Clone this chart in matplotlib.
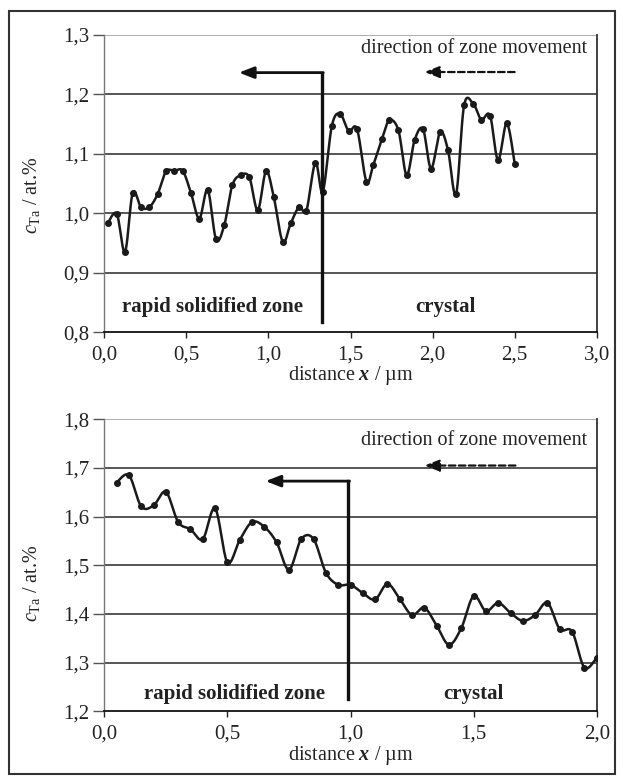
import numpy as np
import matplotlib
matplotlib.use("Agg")
import matplotlib.pyplot as plt
from matplotlib.patches import Rectangle
from matplotlib.ticker import FuncFormatter

# ---------------- data ----------------
x_top = [0.021, 0.076, 0.126, 0.173, 0.224, 0.274, 0.325, 0.376, 0.427, 0.478,
         0.528, 0.579, 0.630, 0.681, 0.731, 0.780, 0.833, 0.884, 0.935, 0.985,
         1.032, 1.087, 1.136, 1.188, 1.231, 1.286, 1.331, 1.386, 1.436, 1.489,
         1.540, 1.597, 1.639, 1.692, 1.737, 1.792, 1.842, 1.891, 1.942, 1.991,
         2.046, 2.094, 2.143, 2.192, 2.249, 2.297, 2.350, 2.399, 2.452, 2.501]
c_top = [0.983, 0.999, 0.935, 1.034, 1.010, 1.010, 1.032, 1.070, 1.071, 1.071,
         1.034, 0.991, 1.039, 0.956, 0.980, 1.047, 1.064, 1.060, 1.005, 1.070,
         1.028, 0.952, 0.983, 1.011, 1.004, 1.085, 1.036, 1.146, 1.167, 1.138,
         1.141, 1.053, 1.081, 1.125, 1.156, 1.139, 1.064, 1.123, 1.141, 1.075,
         1.136, 1.106, 1.032, 1.181, 1.183, 1.157, 1.164, 1.089, 1.151, 1.082]

x_bot = [0.05, 0.10, 0.15, 0.20, 0.25, 0.30, 0.35, 0.40, 0.45, 0.50,
         0.55, 0.60, 0.65, 0.70, 0.75, 0.80, 0.85, 0.90, 0.95, 1.00,
         1.05, 1.10, 1.15, 1.20, 1.25, 1.30, 1.35, 1.40, 1.45, 1.50,
         1.55, 1.60, 1.65, 1.70, 1.75, 1.80, 1.85, 1.90, 1.95, 2.00]
c_bot = [1.670, 1.685, 1.621, 1.623, 1.651, 1.589, 1.574, 1.554, 1.617, 1.506,
         1.552, 1.589, 1.579, 1.547, 1.491, 1.554, 1.554, 1.485, 1.460, 1.460,
         1.443, 1.430, 1.462, 1.431, 1.398, 1.413, 1.376, 1.337, 1.371, 1.437,
         1.406, 1.423, 1.402, 1.386, 1.398, 1.423, 1.369, 1.364, 1.290, 1.310]

xticks_top = [0.0, 0.5, 1.0, 1.5, 2.0, 2.5, 3.0]
yticks_top = [0.8, 0.9, 1.0, 1.1, 1.2, 1.3]
xticks_bot = [0.0, 0.5, 1.0, 1.5, 2.0]
yticks_bot = [1.2, 1.3, 1.4, 1.5, 1.6, 1.7, 1.8]

# boundary between zones (data units)
border_top = 1.327
border_bot = 0.991

label_zone = "rapid solidified zone"
label_crystal = "crystal"
label_dir = "direction of zone movement"

# ---------------- style ----------------
plt.rcParams['font.family'] = ['Liberation Serif', 'DejaVu Serif']
plt.rcParams['mathtext.fontset'] = 'custom'
plt.rcParams['mathtext.rm'] = 'Liberation Serif'
plt.rcParams['mathtext.it'] = 'Liberation Serif:italic'
plt.rcParams['mathtext.bf'] = 'Liberation Serif:bold:italic'

W, H = 623, 780
fig = plt.figure(figsize=(W / 100, H / 100), dpi=100)
TXT = '#222222'


def px_axes(left, top, right, bottom):
    return fig.add_axes([left / W, 1 - bottom / H, (right - left) / W, (bottom - top) / H])


def smooth(xs, ys, n=20):
    xs = np.asarray(xs, float)
    ys = np.asarray(ys, float)
    px = np.concatenate([[xs[0]], xs, [xs[-1]]])
    py = np.concatenate([[ys[0]], ys, [ys[-1]]])
    outx, outy = [], []
    t = np.linspace(0, 1, n)
    for i in range(1, len(px) - 2):
        p0 = np.array([px[i], py[i]])
        p3 = np.array([px[i + 1], py[i + 1]])
        p1 = p0 + (p3 - np.array([px[i - 1], py[i - 1]])) / 6.0
        p2 = p3 - (np.array([px[i + 2], py[i + 2]]) - p0) / 6.0
        b = ((1 - t) ** 3)[:, None] * p0 + (3 * (1 - t) ** 2 * t)[:, None] * p1 + \
            (3 * (1 - t) * t ** 2)[:, None] * p2 + (t ** 3)[:, None] * p3
        outx.extend(b[:, 0])
        outy.extend(b[:, 1])
    return outx, outy


comma = FuncFormatter(lambda v, p: f"{v:.1f}".replace('.', ','))


def style_axes(ax, xticks, yticks):
    ax.set_xlim(xticks[0], xticks[-1])
    ax.set_ylim(yticks[0], yticks[-1])
    ax.set_xticks(xticks)
    ax.set_yticks(yticks)
    ax.xaxis.set_major_formatter(comma)
    ax.yaxis.set_major_formatter(comma)
    ax.tick_params(axis='both', labelsize=15, direction='out', colors=TXT)
    ax.tick_params(axis='x', length=4.5, width=1.0, pad=5)
    ax.tick_params(axis='y', length=8, width=1.0, color='#555555', pad=3)
    for yv in yticks[1:-1]:
        ax.axhline(yv, color='#3a3a3a', lw=1.2, zorder=1)
    ax.axhline(yticks[-1], color='#a0a0a0', lw=1.2, zorder=1)
    ax.spines['top'].set_visible(False)
    ax.spines['left'].set_color('#777777')
    ax.spines['left'].set_linewidth(1.0)
    ax.spines['bottom'].set_color('#111111')
    ax.spines['bottom'].set_linewidth(1.3)
    ax.spines['right'].set_color('#333333')
    ax.spines['right'].set_linewidth(1.3)


def draw_curve(ax, xs, ys):
    sx, sy = smooth(xs, ys)
    ax.plot(sx, sy, color='#1a1a1a', lw=1.8, zorder=3, solid_capstyle='round')
    ax.plot(xs, ys, 'o', color='#1a1a1a', ms=4.0, zorder=4)


ARROW = '-|>,head_length=0.9,head_width=0.35'

# ---------------- top chart ----------------
ax1 = px_axes(104.3, 34.5, 596.7, 332.3)
style_axes(ax1, xticks_top, yticks_top)
draw_curve(ax1, x_top, c_top)
ax1.plot([border_top, border_top], [0.818, 1.236], color='#111111', lw=2.4, zorder=5)
ax1.annotate('', xy=(0.82, 1.236), xytext=(border_top + 0.007, 1.236),
             arrowprops=dict(arrowstyle=ARROW, color='#111111', lw=2.0,
                             shrinkA=0, shrinkB=0), zorder=5)
ax1.text(2.94, 1.276, label_dir, ha='right', va='center', fontsize=14.5, color=TXT)
ax1.annotate('', xy=(1.95, 1.237), xytext=(2.50, 1.237),
             arrowprops=dict(arrowstyle=ARROW, color='#111111', lw=1.6, ls=(0, (3, 1.5)),
                             shrinkA=0, shrinkB=0), zorder=5)
ax1.text(0.66, 0.843, label_zone, ha='center', va='center', fontsize=15,
         fontweight='bold', color=TXT)
ax1.text(2.08, 0.843, label_crystal, ha='center', va='center', fontsize=15,
         fontweight='bold', color=TXT)
ax1.set_xlabel(r"distance $\mathbf{x}$ / µm", fontsize=14.5, labelpad=0, color=TXT)

# ---------------- bottom chart ----------------
ax2 = px_axes(104.3, 419.3, 596.7, 711.4)
style_axes(ax2, xticks_bot, yticks_bot)
draw_curve(ax2, x_bot, c_bot)
ax2.plot([border_bot, border_bot], [1.225, 1.673], color='#111111', lw=2.4, zorder=5)
ax2.annotate('', xy=(0.655, 1.673), xytext=(border_bot + 0.005, 1.673),
             arrowprops=dict(arrowstyle=ARROW, color='#111111', lw=2.0,
                             shrinkA=0, shrinkB=0), zorder=5)
ax2.text(1.96, 1.757, label_dir, ha='right', va='center', fontsize=14.5, color=TXT)
ax2.annotate('', xy=(1.30, 1.705), xytext=(1.67, 1.705),
             arrowprops=dict(arrowstyle=ARROW, color='#111111', lw=1.6, ls=(0, (3, 1.5)),
                             shrinkA=0, shrinkB=0), zorder=5)
ax2.text(0.53, 1.236, label_zone, ha='center', va='center', fontsize=15,
         fontweight='bold', color=TXT)
ax2.text(1.50, 1.236, label_crystal, ha='center', va='center', fontsize=15,
         fontweight='bold', color=TXT)
ax2.set_xlabel(r"distance $\mathbf{x}$ / µm", fontsize=14.5, labelpad=0, color=TXT)

# y labels (slightly below the axes centre, as in the original)
ylab = r"$c_{\mathrm{Ta}}$ / at.%"
fig.text(31 / W, 1 - 195 / H, ylab, rotation=90, ha='center', va='center',
         fontsize=14.5, color=TXT)
fig.text(31 / W, 1 - 583 / H, ylab, rotation=90, ha='center', va='center',
         fontsize=14.5, color=TXT)

# outer frame
fig.patches.append(Rectangle((9 / W, 1 - 774 / H), (615 - 9) / W, (774 - 11) / H,
                             transform=fig.transFigure, fill=False,
                             edgecolor='#333333', lw=1.5))

fig.savefig("out.png", dpi=100)
